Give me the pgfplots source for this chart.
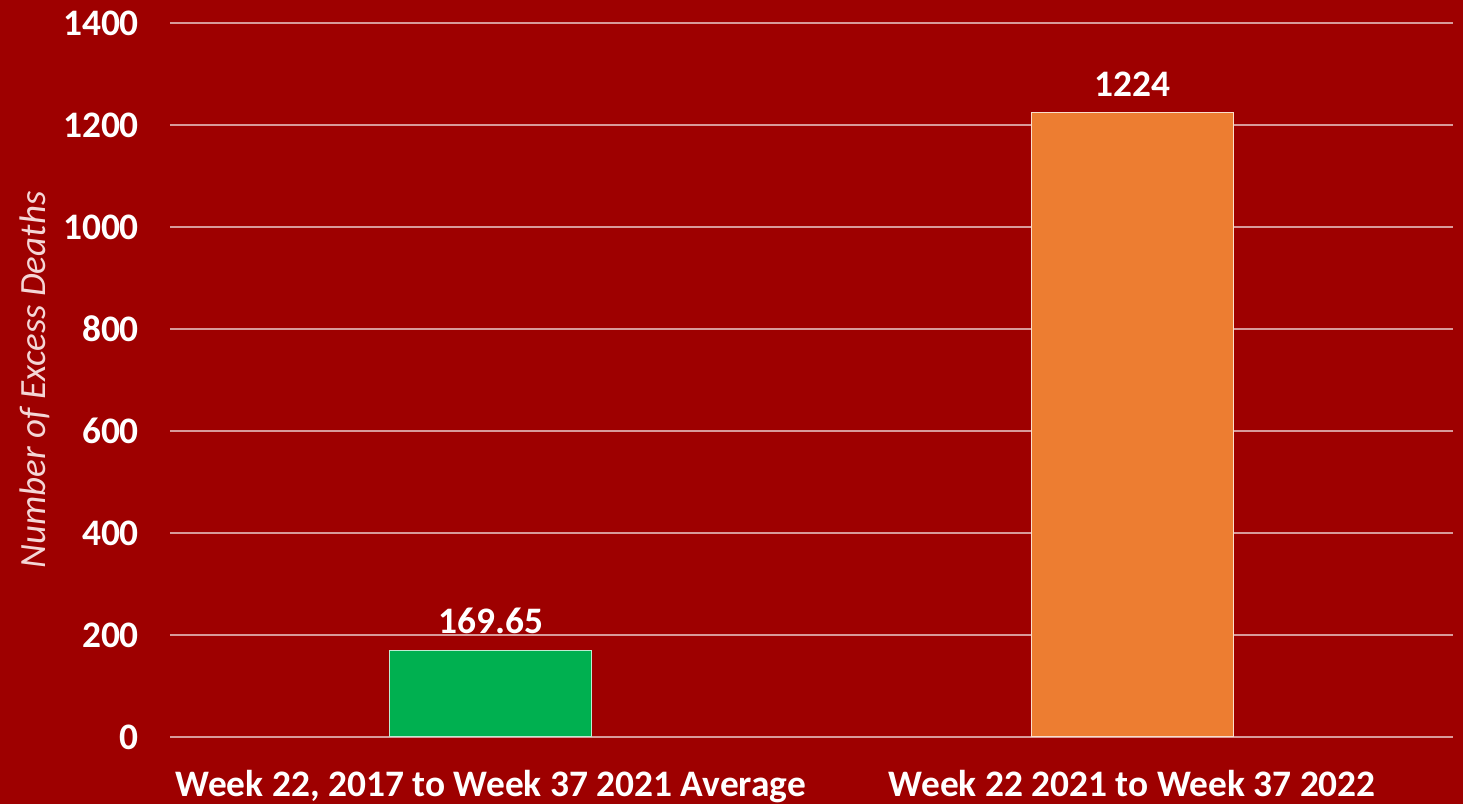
\documentclass[border=0pt]{standalone}
\usepackage{fontspec}
\setmainfont{Carlito}
\usepackage{pgfplots}
\pgfplotsset{compat=1.18}

\definecolor{bgred}{HTML}{9E0000}
\definecolor{gridc}{HTML}{D89A9A}
\definecolor{barg}{HTML}{00B050}
\definecolor{baro}{HTML}{ED7D31}
\definecolor{ylab}{HTML}{F4D6D6}

\begin{document}
\begin{tikzpicture}
% background (image is 1463 x 804 px, 1 px = 0.5pt; plot area 170..1453 x 23..737)
\fill[bgred] (-85pt,-33.5pt) rectangle (646.5pt,368.5pt);
\begin{axis}[
    scale only axis,
    width=641.5pt,
    height=357pt,
    xmin=-0.5, xmax=1.5,
    ymin=0, ymax=1400,
    ytick={0,200,...,1400},
    xtick={0,1},
    xticklabels={{Week 22, 2017 to Week 37 2021 Average},{Week 22 2021 to Week 37 2022}},
    ymajorgrids,
    grid style={gridc, line width=0.8pt},
    axis line style={draw=none},
    major tick length=0pt,
    /pgf/number format/assume math mode=true,
    /pgf/number format/1000 sep={},
    ticklabel style={font=\fontsize{18.7}{22}\selectfont\bfseries, text=white},
    yticklabel style={xshift=-12pt},
    xticklabel style={yshift=-13pt},
    ylabel={Number of Excess Deaths},
    every axis y label/.style={at={(ticklabel cs:0.5)}, rotate=90, anchor=south,
        font=\fontsize{18.5}{22}\selectfont\itshape, text=ylab},
    ybar, bar width=101pt, bar shift=0pt,
    nodes near coords,
    nodes near coords style={font=\fontsize{18.7}{22}\selectfont\bfseries, text=white, yshift=4.5pt},
    point meta=explicit symbolic,
]
\addplot[fill=barg, draw=white!75!barg, line width=0.6pt] coordinates {(0,169.65) [169.65]};
\addplot[fill=baro, draw=white!75!baro, line width=0.6pt] coordinates {(1,1224) [1224]};
\end{axis}
\end{tikzpicture}
\end{document}
